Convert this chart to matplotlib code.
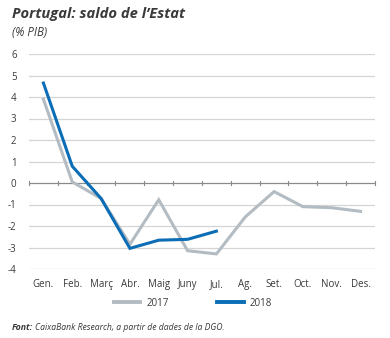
import matplotlib
matplotlib.use("Agg")
import matplotlib.pyplot as plt
from matplotlib.lines import Line2D
import numpy as np

months = ["Gen.", "Feb.", "Març", "Abr.", "Maig", "Juny", "Jul.", "Ag.", "Set.", "Oct.", "Nov.", "Des."]
s2017 = [3.9, 0.05, -0.72, -2.85, -0.78, -3.15, -3.3, -1.58, -0.4, -1.1, -1.15, -1.32]
s2018 = [4.65, 0.78, -0.72, -3.04, -2.66, -2.62, -2.24]
yticks = [-4, -3, -2, -1, 0, 1, 2, 3, 4, 5, 6]

plt.rcParams['font.family'] = ['Open Sans', 'DejaVu Sans']
txt = '#3a3a3a'
grey = '#b3bcc2'
blue = '#0b6db5'

fig = plt.figure(figsize=(3.9, 3.38), dpi=100)
ax = fig.add_axes([29/390, 1-269/338, (375-29)/390, (269-54)/338])

x = np.arange(len(months))
for t in yticks:
    if t != 0:
        ax.axhline(t, color='#d5d5d5', lw=0.9, zorder=0)
ax.axhline(0, color='#8a8a8a', lw=0.9, zorder=1)

ax.plot(x, s2017, color=grey, lw=2.2, zorder=2, solid_joinstyle='miter')
ax.plot(x[:len(s2018)], s2018, color=blue, lw=2.2, zorder=3, solid_joinstyle='miter')

ax.set_xlim(-0.5, 11.5)
ax.set_ylim(-4, 6)
ax.set_yticks(yticks)
ax.set_yticklabels([str(t) for t in yticks], color=txt, fontsize=7)
ax.set_xticks(x)
ax.set_xticklabels(months, color=txt, fontsize=7)
ax.tick_params(axis='both', length=0)
ax.tick_params(axis='y', pad=9)
ax.tick_params(axis='x', pad=7)
for b in np.arange(-0.5, 12, 1.0):
    ax.plot([b, b], [-0.08, 0.08], color='#8a8a8a', lw=0.8, zorder=1, clip_on=False)
for s in ax.spines.values():
    s.set_visible(False)

fig.text(12/390, 1-14/338, "Portugal: saldo de l\u2019Estat", fontsize=10.6, fontweight='bold',
         style='italic', color=txt, va='center', ha='left')
fig.text(12/390, 1-33/338, "(% PIB)", fontsize=8.3, style='italic', color=txt, va='center', ha='left')

handles = [Line2D([], [], color=grey, lw=2.8), Line2D([], [], color=blue, lw=2.8)]
fig.legend(handles, ["2017", "2018"], loc='center', bbox_to_anchor=(193/390, 1-303/338),
           ncol=2, frameon=False, fontsize=7, handlelength=2.7, columnspacing=5.0,
           handletextpad=0.6, labelcolor=txt)

fig.text(12/390, 1-327/338, "Font:", fontsize=6.3, fontweight='bold', style='italic',
         color=txt, va='center', ha='left')
fig.text(35/390, 1-327/338, "CaixaBank Research, a partir de dades de la DGO.", fontsize=6.2,
         style='italic', color=txt, va='center', ha='left')

fig.savefig("out.png", dpi=100, facecolor='white')
